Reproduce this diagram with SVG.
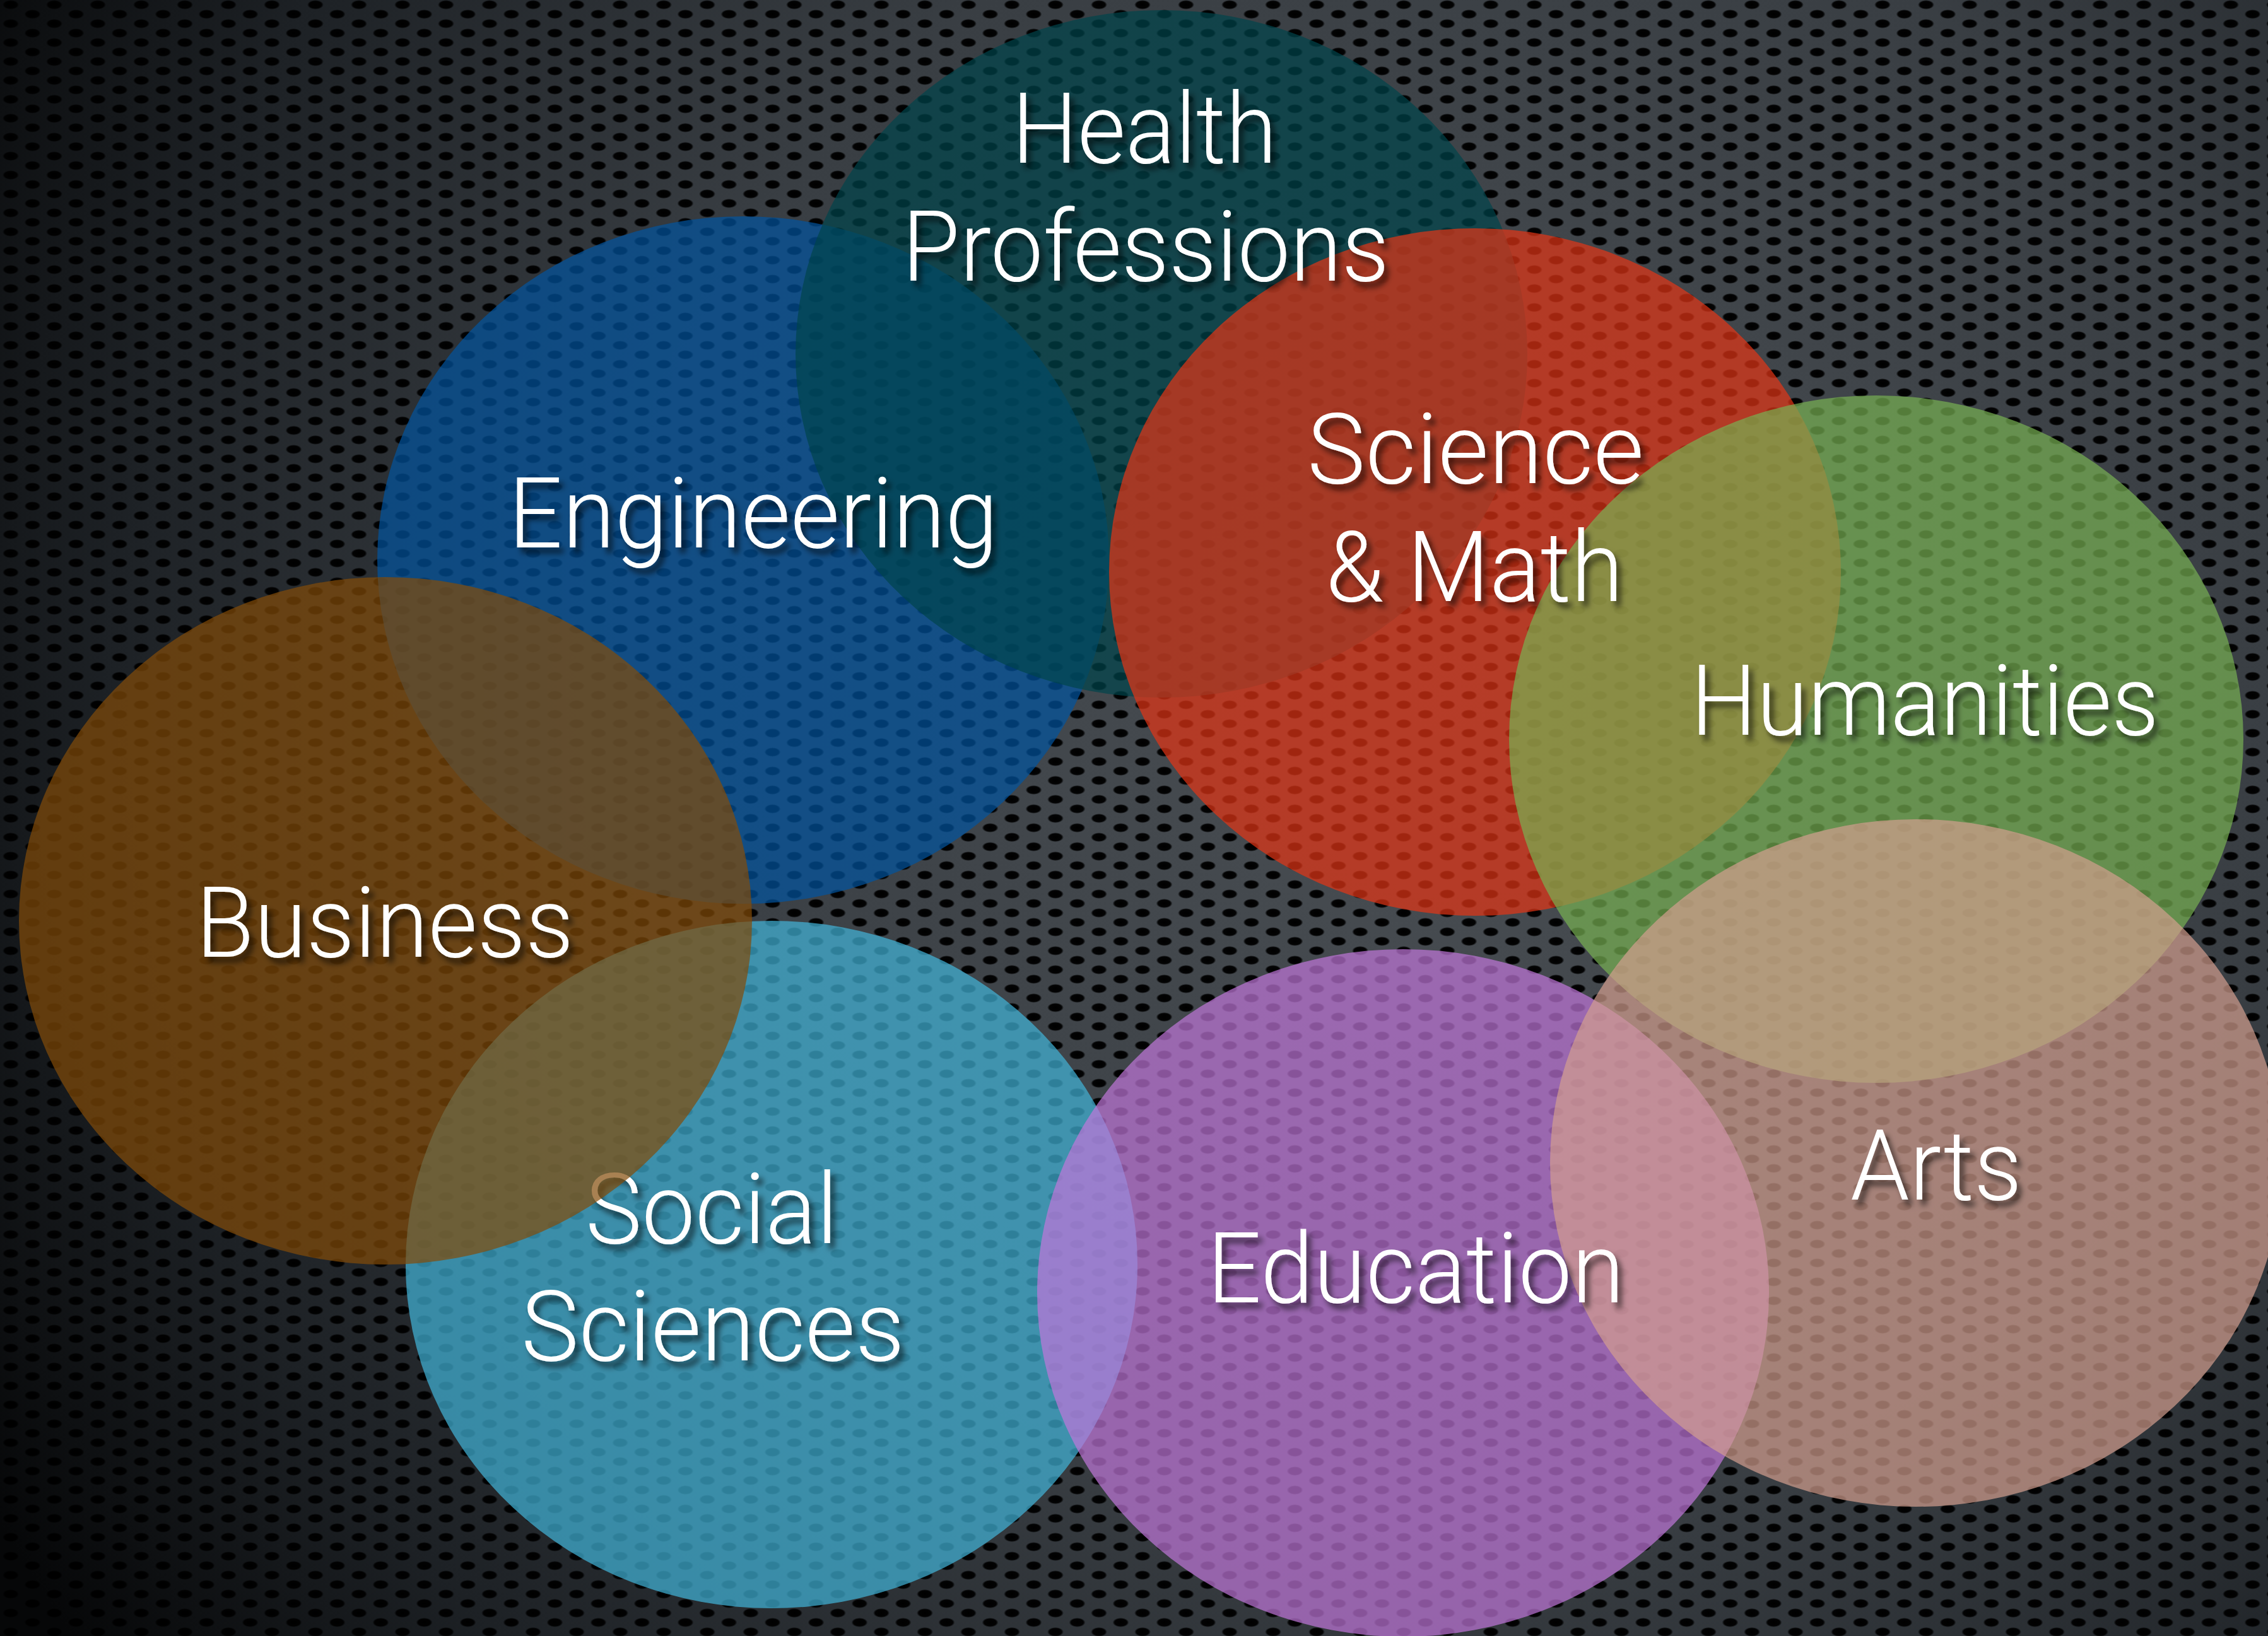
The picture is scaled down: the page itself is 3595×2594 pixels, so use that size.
<svg xmlns="http://www.w3.org/2000/svg" width="3595" height="2594" viewBox="0 0 3595 2594">
  <style>
    .disc { fill-opacity: 0.7; stroke: none; }
    .lbl { font-family: Roboto, "Liberation Sans", Arial, Helvetica, sans-serif; font-weight: 300; font-size: 156px; fill: #ffffff; text-anchor: middle; filter: url(#shadow); }
  </style>
  <defs>
    <radialGradient id="bgGrad" gradientUnits="userSpaceOnUse" cx="2300" cy="1100" r="2650">
      <stop offset="0" stop-color="#4a4f54"/>
      <stop offset="0.5" stop-color="#393e43"/>
      <stop offset="0.8" stop-color="#1d2125"/>
      <stop offset="1" stop-color="#060708"/>
    </radialGradient>
    <radialGradient id="holeGrad">
      <stop offset="0" stop-color="#000" stop-opacity="1"/>
      <stop offset="0.75" stop-color="#000" stop-opacity="0.95"/>
      <stop offset="1" stop-color="#000" stop-opacity="0"/>
    </radialGradient>
    <pattern id="mesh" patternUnits="userSpaceOnUse" width="69" height="30">
      <ellipse cx="17" cy="7.5" rx="13" ry="7.5" fill="url(#holeGrad)"/>
      <ellipse cx="51.5" cy="22.5" rx="13" ry="7.5" fill="url(#holeGrad)"/>
    </pattern>
    <filter id="shadow" x="-10%" y="-30%" width="130%" height="180%">
      <feDropShadow dx="7" dy="9" stdDeviation="5" flood-color="#000" flood-opacity="0.6"/>
    </filter>
  </defs>

  <g id="background">
    <rect x="0" y="0" width="3595" height="2594" fill="url(#bgGrad)"/>
    <rect x="0" y="0" width="3595" height="2594" fill="url(#mesh)"/>
  </g>

  <g id="node-engineering"><ellipse class="disc" cx="1178" cy="888" rx="580" ry="545" fill="#0254a0"/></g>
  <g id="node-health-professions"><ellipse class="disc" cx="1841" cy="561" rx="580" ry="545" fill="#00454c"/></g>
  <g id="node-science-math"><ellipse class="disc" cx="2338" cy="907" rx="580" ry="545" fill="#e43416"/></g>
  <g id="node-humanities"><ellipse class="disc" cx="2974" cy="1172" rx="582" ry="545" fill="#78b052"/></g>
  <g id="node-social-sciences">
    <ellipse class="disc" cx="1223" cy="2005" rx="580" ry="545" fill="#41b5da"/>
    <text class="lbl" x="1128" y="1971" textLength="400" lengthAdjust="spacingAndGlyphs">Social</text>
    <text class="lbl" x="1130" y="2157" textLength="608" lengthAdjust="spacingAndGlyphs">Sciences</text>
  </g>
  <g id="node-education"><ellipse class="disc" cx="2224" cy="2050" rx="580" ry="545" fill="#c076da"/></g>
  <g id="node-arts"><ellipse class="disc" cx="3037" cy="1844" rx="580" ry="545" fill="#d39e8e"/></g>
  <g id="node-business"><ellipse class="disc" cx="611" cy="1460" rx="581" ry="545" fill="#834b08"/></g>

  <g id="labels">
    <text id="label-health-1" class="lbl" x="1814" y="258" textLength="420" lengthAdjust="spacingAndGlyphs">Health</text>
    <text id="label-health-2" class="lbl" x="1816" y="445" textLength="772" lengthAdjust="spacingAndGlyphs">Professions</text>
    <text id="label-engineering" class="lbl" x="1194" y="868" textLength="776" lengthAdjust="spacingAndGlyphs">Engineering</text>
    <text id="label-science-1" class="lbl" x="2339" y="766" textLength="534" lengthAdjust="spacingAndGlyphs">Science</text>
    <text id="label-science-2" class="lbl" x="2337" y="953" textLength="472" lengthAdjust="spacingAndGlyphs">&amp; Math</text>
    <text id="label-humanities" class="lbl" x="3051" y="1165" textLength="742" lengthAdjust="spacingAndGlyphs">Humanities</text>
    <text id="label-business" class="lbl" x="610" y="1517" textLength="599" lengthAdjust="spacingAndGlyphs">Business</text>
    <text id="label-education" class="lbl" x="2244" y="2065" textLength="661" lengthAdjust="spacingAndGlyphs">Education</text>
    <text id="label-arts" class="lbl" x="3069" y="1902" textLength="272" lengthAdjust="spacingAndGlyphs">Arts</text>
  </g>
  <g id="connectors"/>
</svg>
